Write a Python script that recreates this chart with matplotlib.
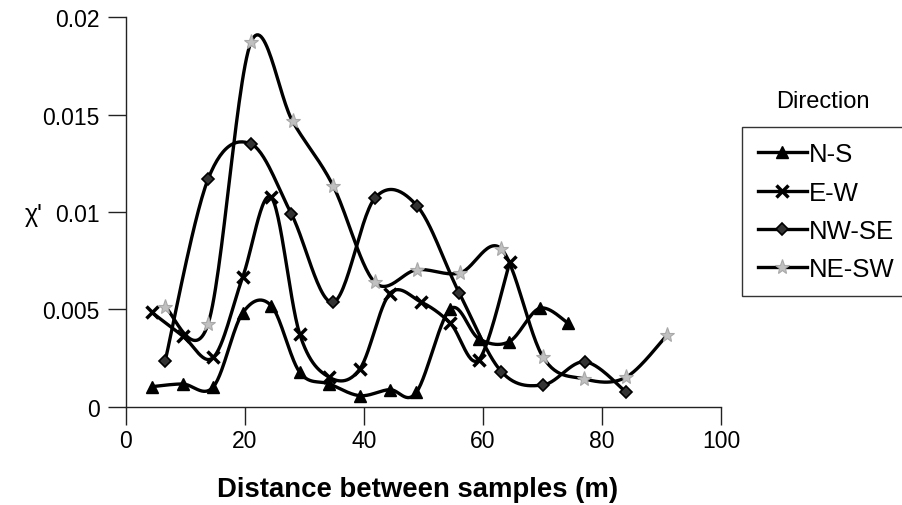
import numpy as np
import matplotlib
matplotlib.use("Agg")
import matplotlib.pyplot as plt
from matplotlib.lines import Line2D

plt.rcParams['font.family'] = ['Liberation Sans', 'DejaVu Sans']

# ---- data ----
ns_x = [4.3, 9.5, 14.7, 19.6, 24.4, 29.2, 34.2, 39.3, 44.3, 48.8, 54.5, 59.3, 64.4, 69.5, 74.3]
ns_y = [0.00104, 0.00118, 0.00104, 0.00482, 0.0052, 0.00178, 0.00118, 0.00058, 0.00089, 0.00075,
        0.00503, 0.0035, 0.00335, 0.00506, 0.0043]

ew_x = [4.3, 9.5, 14.7, 19.6, 24.4, 29.2, 34.2, 39.3, 44.3, 49.5, 54.5, 59.3, 64.5]
ew_y = [0.00486, 0.00366, 0.00255, 0.00665, 0.01075, 0.00374, 0.00152, 0.00195, 0.0058, 0.0054,
        0.0043, 0.00243, 0.00742]

nwse_x = [6.6, 13.8, 21.0, 27.8, 34.8, 41.8, 48.9, 56.0, 63.1, 70.1, 77.1, 84.0]
nwse_y = [0.00238, 0.01169, 0.01349, 0.0099, 0.00537, 0.0107, 0.01032, 0.00585, 0.00181, 0.00113,
          0.00232, 0.00078]

nesw_x = [6.6, 13.8, 21.0, 28.0, 34.8, 41.8, 48.9, 56.1, 63.1, 70.1, 77.0, 84.0, 91.0]
nesw_y = [0.00511, 0.00426, 0.0187, 0.01465, 0.01135, 0.0064, 0.00704, 0.00687, 0.0081, 0.00255,
          0.00144, 0.00152, 0.00371]

labels = ['N-S', 'E-W', 'NW-SE', 'NE-SW']
x_ticks = [0, 20, 40, 60, 80, 100]
y_ticks = [0, 0.005, 0.01, 0.015, 0.02]
y_tick_labels = ['0', '0.005', '0.01', '0.015', '0.02']


def smooth(xs, ys, n=30):
    """Excel-style smoothed line: cubic Bezier through points (Catmull-Rom)."""
    p = np.column_stack([xs, ys]).astype(float)
    m = len(p)
    out = []
    for i in range(m - 1):
        p0 = p[i]
        p3 = p[i + 1]
        prev = p[i - 1] if i > 0 else p[i]
        nxt = p[i + 2] if i + 2 < m else p[i + 1]
        c1 = p0 + (p3 - prev) / 6.0
        c2 = p3 - (nxt - p0) / 6.0
        t = np.linspace(0, 1, n)[:, None]
        seg = ((1 - t) ** 3) * p0 + 3 * ((1 - t) ** 2) * t * c1 + 3 * (1 - t) * t ** 2 * c2 + t ** 3 * p3
        if i > 0:
            seg = seg[1:]
        out.append(seg)
    out = np.vstack(out)
    return out[:, 0], out[:, 1]


fig = plt.figure(figsize=(9.03, 5.06), dpi=100)
ax = fig.add_axes([0.1395, 0.1937, 0.659, 0.7707])

lw = 2.4
styles = [
    dict(marker='^', ms=8, mfc='black', mec='black', mew=1),
    dict(marker='x', ms=8, mfc='black', mec='black', mew=2.5),
    dict(marker='D', ms=6, mfc='#333333', mec='black', mew=1.2),
    dict(marker='*', ms=11, mfc='#c0c0c0', mec='#a8a8a8', mew=0.8),
]
series = [(ns_x, ns_y), (ew_x, ew_y), (nwse_x, nwse_y), (nesw_x, nesw_y)]

for (xs, ys), st in zip(series, styles):
    sx, sy = smooth(xs, ys)
    ax.plot(sx, sy, color='black', lw=lw, zorder=2, solid_capstyle='round')
    ax.plot(xs, ys, ls='none', zorder=3, **st)

ax.set_xlim(0, 100)
ax.set_ylim(0, 0.02)
ax.set_xticks(x_ticks)
ax.set_yticks(y_ticks)
ax.set_yticklabels(y_tick_labels)
for s in ['top', 'right']:
    ax.spines[s].set_visible(False)
for s in ['left', 'bottom']:
    ax.spines[s].set_color('#222222')
    ax.spines[s].set_linewidth(1.0)
ax.tick_params(direction='out', length=13, width=1.0, labelsize=16.5, color='#222222', pad=3)
ax.tick_params(axis='y', pad=6)

fig.text(418 / 903, 1 - 490 / 506, 'Distance between samples (m)', fontsize=19.8,
         fontweight='bold', ha='center', va='center')
fig.text(0.037, 1 - 215 / 506, "χ'", fontsize=18, ha='center', va='center')

handles = []
for lab, st in zip(labels, styles):
    handles.append(Line2D([0], [0], color='black', lw=lw, label=lab, **st))
leg = fig.legend(handles=handles, loc='upper left', bbox_to_anchor=(0.822, 0.747),
                 prop={'size': 18.5}, frameon=True, fancybox=False, edgecolor='black',
                 handlelength=1.9, handletextpad=0.1, labelspacing=0.55, borderpad=0.6,
                 borderaxespad=0)
leg.get_frame().set_linewidth(1.0)
fig.text(823 / 903, 1 - 102 / 506, 'Direction', fontsize=17, ha='center', va='center')

fig.savefig('out.png', dpi=100)
